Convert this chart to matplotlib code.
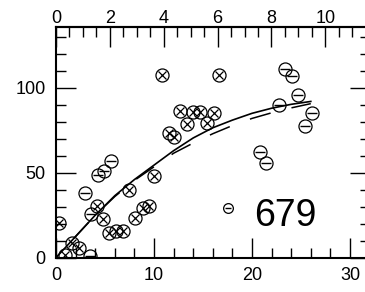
import numpy as np
import matplotlib
matplotlib.use("Agg")
import matplotlib.pyplot as plt

plt.rcParams['font.family'] = ['Liberation Sans', 'DejaVu Sans']
plt.rcParams['lines.scale_dashes'] = False

# points marked with a cross in the circle
cross_x = [10.8, 16.6, 12.7, 14.0, 14.7, 16.1, 13.4, 15.4, 11.5, 12.0, 7.45, 10.0,
           4.15, 4.8, 8.1, 8.85, 9.5, 5.44, 6.1, 6.8, 0.34, 1.6, 2.3, 0.9]
cross_y = [107.5, 107.5, 86.5, 86.0, 86.0, 85.3, 78.5, 79.1, 73.5, 71.2, 39.8, 48.1,
           30.3, 22.8, 23.5, 29.0, 30.4, 14.5, 15.7, 15.7, 20.6, 8.6, 5.5, 1.6]
# points marked with a bar in the circle
bar_x = [23.4, 24.1, 24.7, 22.8, 26.1, 25.4, 20.8, 21.4, 5.6, 4.9, 4.3, 2.96, 3.54, 3.5]
bar_y = [111.0, 107.0, 95.7, 89.8, 85.3, 77.6, 62.3, 55.7, 57.0, 51.0, 48.6, 38.2, 25.9, 1.0]
small_x = [17.5]
small_y = [29.0]

# fitted curves
fit_x = [0, 2, 4, 6, 8, 10, 12, 14, 16, 18, 20, 22, 24, 26]
solid_y = [0, 12.5, 25, 36.5, 46, 54.5, 63, 70.5, 76.5, 81, 85, 88, 90.3, 92]
dash_y = [0, 12.5, 25, 36, 45.5, 53.5, 61.5, 67.5, 73, 77.8, 82, 85.3, 88.2, 90.7]

fig = plt.figure(figsize=(3.65, 2.92), dpi=100)
ax = fig.add_axes([56 / 365, (292 - 257.7) / 292, 313.6 / 365, 231 / 292])

ax.plot(fit_x, dash_y, color='k', lw=1.1, ls=(12, (15.5, 15.5)))
ax.plot(fit_x, solid_y, color='k', lw=1.2)

mk = dict(ls='none', color='k')
ax.plot(cross_x, cross_y, marker='o', ms=9.4, mfc='none', mew=0.9, **mk)
ax.plot(cross_x, cross_y, marker='x', ms=5.2, mew=0.9, **mk)
ax.plot(bar_x, bar_y, marker='o', ms=9.4, mfc='none', mew=0.9, **mk)
ax.plot(bar_x, bar_y, marker='_', ms=6.5, mew=1.0, **mk)
ax.plot(small_x, small_y, marker='o', ms=7.0, mfc='none', mew=0.9, **mk)
ax.plot(small_x, small_y, marker='_', ms=4.6, mew=1.0, **mk)

ax.text(20.2, 18.6, "679", fontsize=27, ha='left', va='baseline')

ax.set_xlim(0, 32)
ax.set_ylim(0, 136)
ax.set_xticks([0, 10, 20, 30])
ax.set_xticks(np.arange(0, 33, 2), minor=True)
ax.set_yticks([0, 50, 100])
ax.set_yticks(np.arange(0, 136, 10), minor=True)
ax.tick_params(which='both', direction='in', right=True, width=1.0, labelsize=13)
ax.tick_params(which='major', length=14.4)
ax.tick_params(which='minor', length=7.2)
ax.tick_params(axis='y', pad=7.5)
ax.tick_params(axis='x', pad=7)
for s in ax.spines.values():
    s.set_linewidth(1.5)

k = 10 / 27.48
top = ax.secondary_xaxis('top', functions=(lambda x: x * k, lambda x: x / k))
top.set_xticks(np.arange(0, 12, 2))
top.set_xticks(np.arange(0, 12, 0.5), minor=True)
top.tick_params(which='both', direction='in', width=1.0, labelsize=13, pad=-0.5)
top.tick_params(which='major', length=14.4)
top.tick_params(which='minor', length=7.2)
top.spines['top'].set_linewidth(1.5)

fig.savefig("out.png", dpi=100)
